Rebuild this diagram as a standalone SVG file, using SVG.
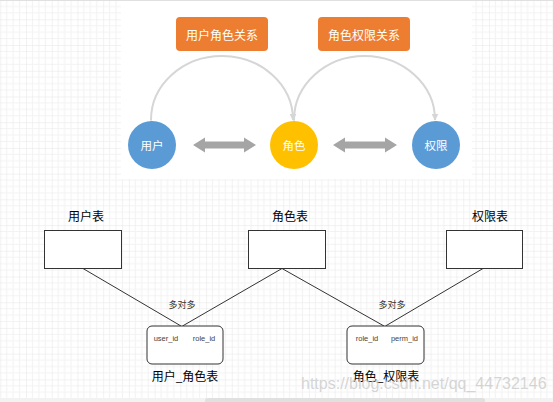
<svg xmlns="http://www.w3.org/2000/svg" width="553" height="402" viewBox="0 0 553 402">
  <defs>
    <pattern id="grid" width="25.72" height="25.72" patternUnits="userSpaceOnUse" patternTransform="translate(0.3 19.3)">
      <rect width="25.72" height="25.72" fill="#ffffff"/>
      <path d="M6.43 0V25.72M12.86 0V25.72M19.29 0V25.72M0 6.43H25.72M0 12.86H25.72M0 19.29H25.72" stroke="#f3f3f3" stroke-width="1" fill="none"/>
      <path d="M0 0V25.72M0 0H25.72" stroke="#e6e6e6" stroke-width="1" fill="none"/>
    </pattern>
    <marker id="ah" viewBox="0 0 10 10" refX="9" refY="5" markerWidth="7" markerHeight="7" markerUnits="userSpaceOnUse" orient="auto">
      <path d="M0 0L10 5L0 10z" fill="#d6d6d6"/>
    </marker>
    <style>
      .cjk { font-family: "Noto Sans CJK SC", "Noto Sans", sans-serif; }
      .lat { font-family: "Liberation Sans", Arial, "Noto Sans CJK SC", sans-serif; }
      .tag rect { fill: #ed7d31; }
      .tag text { fill: #ffffff; font-size: 12px; text-anchor: middle; dominant-baseline: central; }
      .circ text { fill: #ffffff; font-size: 11.5px; text-anchor: middle; dominant-baseline: central; }
      .arc { fill: none; stroke: #d6d6d6; stroke-width: 2; }
      .dbl { fill: #a5a5a5; }
      .tbl rect { fill: #ffffff; stroke: #333333; stroke-width: 1; }
      .tbl text { fill: #000000; font-size: 12px; text-anchor: middle; }
      .link { stroke: #333333; stroke-width: 1; fill: none; }
      .lbl { fill: #333333; font-size: 9px; text-anchor: middle; dominant-baseline: central; }
      .tbl text.fld { fill: #444444; font-size: 7.5px; text-anchor: middle; dominant-baseline: central; }
    </style>
  </defs>

  <!-- background -->
  <rect x="0" y="0" width="553" height="402" fill="url(#grid)"/>
  <rect x="121" y="0" width="351" height="179" fill="#ffffff"/>
  <rect x="0" y="0" width="553" height="1" fill="#e0e0e0"/>

  <!-- connectors -->
  <g id="connectors">
    <path class="arc" d="M151 120 A71 64 0 0 1 293 120" marker-start="url(#ah)" marker-end="url(#ah)"/>
    <path class="arc" d="M294 120 A70.5 64 0 0 1 435 120" marker-start="url(#ah)" marker-end="url(#ah)"/>
    <polygon class="dbl" points="193,145 205,137.5 205,141.5 244,141.5 244,137.5 256,145 244,152.5 244,148.5 205,148.5 205,152.5"/>
    <polygon class="dbl" points="333,145 345,137.5 345,141.5 385,141.5 385,137.5 397,145 385,152.5 385,148.5 345,148.5 345,152.5"/>
    <line class="link" x1="83" y1="268.5" x2="181" y2="326"/>
    <line class="link" x1="282" y1="268.5" x2="182.5" y2="326"/>
    <line class="link" x1="282" y1="268.5" x2="384" y2="326"/>
    <line class="link" x1="483" y1="268.5" x2="385.5" y2="326"/>
    <text class="lbl cjk" x="182" y="304">多对多</text>
    <text class="lbl cjk" x="392" y="304">多对多</text>
  </g>

  <!-- top relation tags -->
  <g id="tag-user-role" class="tag cjk">
    <rect x="176" y="17" width="92" height="34" rx="4"/>
    <text x="222" y="34">用户角色关系</text>
  </g>
  <g id="tag-role-perm" class="tag cjk">
    <rect x="318" y="17" width="92" height="34" rx="4"/>
    <text x="364" y="34">角色权限关系</text>
  </g>

  <!-- circles -->
  <g id="node-user" class="circ cjk">
    <circle cx="152" cy="145" r="24" fill="#5b9bd5"/>
    <text x="152" y="145">用户</text>
  </g>
  <g id="node-role" class="circ cjk">
    <circle cx="294" cy="145" r="24" fill="#ffc000"/>
    <text x="294" y="145">角色</text>
  </g>
  <g id="node-perm" class="circ cjk">
    <circle cx="436" cy="145" r="24" fill="#5b9bd5"/>
    <text x="436" y="145">权限</text>
  </g>

  <!-- tables -->
  <g id="table-user" class="tbl cjk">
    <text x="86" y="221">用户表</text>
    <rect x="44.5" y="230.5" width="77" height="38"/>
  </g>
  <g id="table-role" class="tbl cjk">
    <text x="290" y="221">角色表</text>
    <rect x="248.5" y="230.5" width="77" height="38"/>
  </g>
  <g id="table-perm" class="tbl cjk">
    <text x="490" y="221">权限表</text>
    <rect x="446.5" y="230.5" width="76" height="38"/>
  </g>

  <!-- join tables -->
  <g id="table-user-role" class="tbl">
    <rect x="147" y="326" width="76" height="38" rx="5"/>
    <text class="fld lat" x="166" y="338.5">user_id</text>
    <text class="fld lat" x="204" y="338.5">role_id</text>
    <text class="cjk" x="185" y="381">用户_角色表</text>
  </g>
  <g id="table-role-perm" class="tbl">
    <rect x="347" y="326" width="77" height="38" rx="5"/>
    <text class="fld lat" x="367" y="338.5">role_id</text>
    <text class="fld lat" x="404.5" y="338.5">perm_id</text>
    <text class="cjk" x="386" y="381">角色_权限表</text>
  </g>

  <!-- watermark and scrollbar -->
  <text class="lat" x="301" y="389" font-size="16" fill="#c8c8c8" fill-opacity="0.75">https://blog.csdn.net/qq_44732146</text>
  <rect x="0" y="398" width="553" height="4" fill="#f2f2f2"/>
  <rect x="205" y="398" width="280" height="5" rx="2.5" fill="#e0e0e0"/>
</svg>
